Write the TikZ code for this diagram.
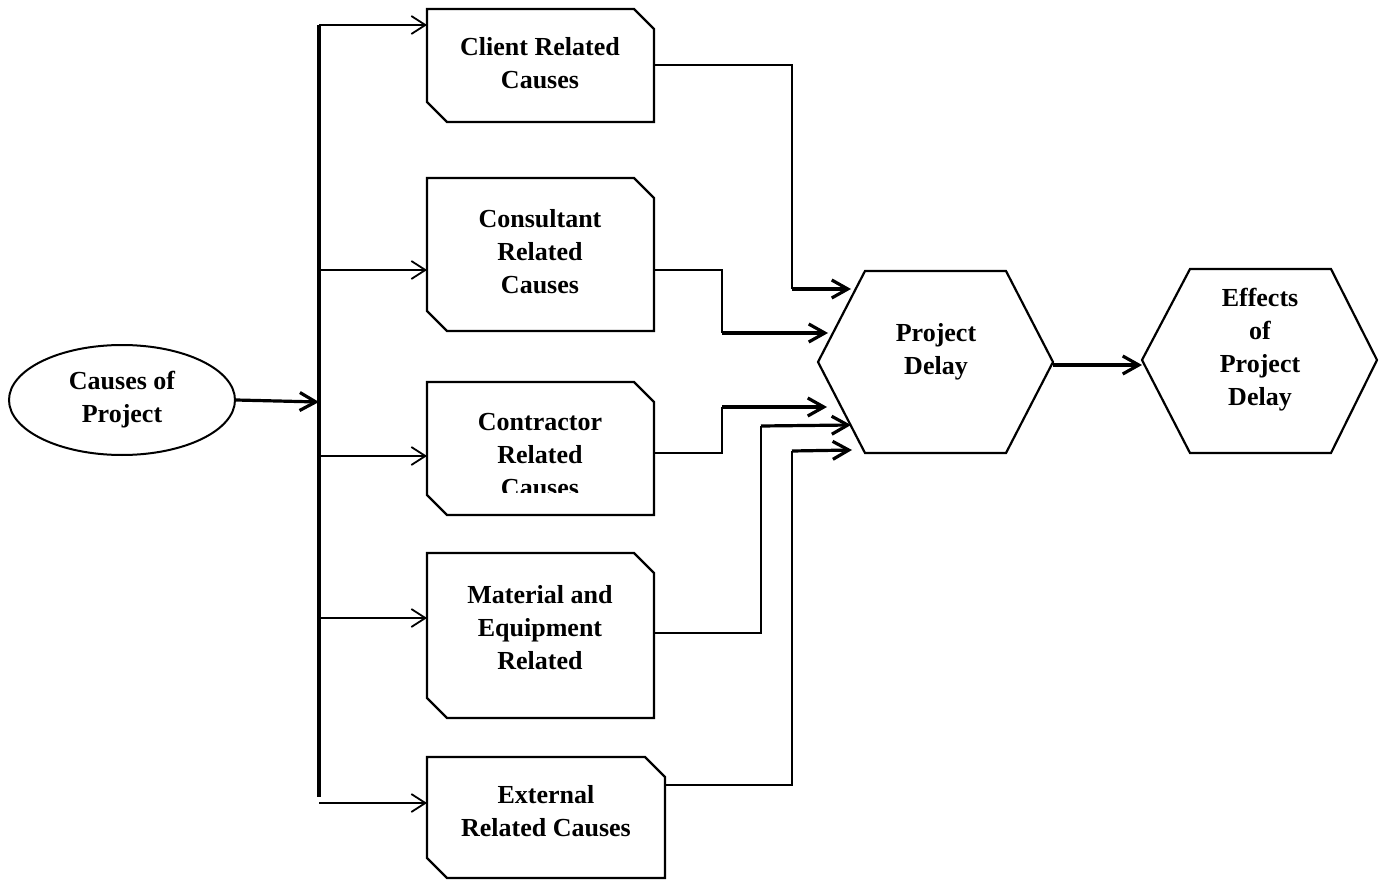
\documentclass[tikz,border=0pt]{standalone}
\usepackage{fontspec}
\setmainfont{Liberation Serif}
\usetikzlibrary{arrows.meta,shapes.geometric}
\newcommand\snipbox[5]{% x1,y1,x2,y2,cut
  \draw[boxline] (#1,#2) -- ({#3-#5},#2) -- (#3,{#2+#5}) -- (#3,#4) -- ({#1+#5},#4) -- (#1,{#4-#5}) -- cycle;}
\begin{document}
\begin{tikzpicture}[x=1pt,y=-1pt,
  boxline/.style={line width=2.2pt},
  lbl/.style={font=\fontsize{26}{33}\selectfont\bfseries, align=center, inner sep=0pt},
  wire/.style={line width=1.3pt},
  bus/.style={line width=3.2pt},
  branch/.style={line width=1.8pt,-{Straight Barb[length=14pt,width=18pt]}},
  heavy/.style={line width=3.2pt,-{Straight Barb[length=16pt,width=18pt]}},
]
\useasboundingbox (0,0) rectangle (1382,880);

% source ellipse
\node[ellipse, draw, line width=2pt, minimum width=226pt, minimum height=110pt, lbl] (src) at (122,400) {Causes of\\Project};

% bus
\coordinate (bustop) at (319,25);
\coordinate (busbot) at (319,797);
\coordinate (busin) at (319,402);
\draw[bus] (bustop) -- (busbot);
\draw[heavy] (src.east) -- (busin);

% boxes
\snipbox{427}{9}{654}{122}{20}
\node[lbl] (client) at (540,63) {Client Related\\Causes};
\snipbox{427}{178}{654}{331}{20}
\node[lbl] (consult) at (540,252) {Consultant\\Related\\Causes};
\snipbox{427}{382}{654}{515}{20}
\begin{scope}
\clip (427,382) rectangle (654,492);
\node[lbl] (contr) at (540,455) {Contractor\\Related\\Causes};
\end{scope}
\snipbox{427}{553}{654}{718}{20}
\node[lbl] (mat) at (540,628) {Material and\\Equipment\\Related};
\snipbox{427}{757}{665}{878}{20}
\node[lbl] (ext) at (546,811) {External\\Related Causes};

% branch arrows from bus
\coordinate (b1) at (319,25);  \coordinate (e1) at (427,25);
\coordinate (b2) at (319,270); \coordinate (e2) at (427,270);
\coordinate (b3) at (319,456); \coordinate (e3) at (427,456);
\coordinate (b4) at (319,618); \coordinate (e4) at (427,618);
\coordinate (b5) at (319,803); \coordinate (e5) at (427,803);
\draw[branch] (b1) -- (e1);
\draw[branch] (b2) -- (e2);
\draw[branch] (b3) -- (e3);
\draw[branch] (b4) -- (e4);
\draw[branch] (b5) -- (e5);

% hexagons
\draw[boxline] (818,362) -- (865,271) -- (1006,271) -- (1053,362) -- (1006,453) -- (865,453) -- cycle;
\node[lbl] (delay) at (936,352) {Project\\Delay};
\draw[boxline] (1142,360) -- (1190,269) -- (1331,269) -- (1377,360) -- (1331,453) -- (1190,453) -- cycle;
\node[lbl] (effects) at (1260,350) {Effects\\of\\Project\\Delay};

% connectors to project delay
\coordinate (o1) at (654,65);  \coordinate (k1) at (792,289); \coordinate (t1) at (851,289);
\coordinate (o2) at (654,270); \coordinate (k2) at (722,333); \coordinate (t2) at (828,333);
\coordinate (o3) at (654,453); \coordinate (k3) at (722,407); \coordinate (t3) at (827,407);
\coordinate (o4) at (654,633); \coordinate (k4) at (761,426); \coordinate (t4) at (851,425);
\coordinate (o5) at (665,785); \coordinate (k5) at (792,451); \coordinate (t5) at (852,450);
\draw[wire] (o1) -| (k1); \draw[heavy] (k1) -- (t1);
\draw[wire] (o2) -| (k2); \draw[heavy] (k2) -- (t2);
\draw[wire] (o3) -| (k3); \draw[heavy] (k3) -- (t3);
\draw[wire] (o4) -| (k4); \draw[heavy] (k4) -- (t4);
\draw[wire] (o5) -| (k5); \draw[heavy] (k5) -- (t5);

% delay -> effects
\coordinate (d1) at (1053,365); \coordinate (d2) at (1142,365);
\draw[heavy] (d1) -- (d2);
\end{tikzpicture}
\end{document}
